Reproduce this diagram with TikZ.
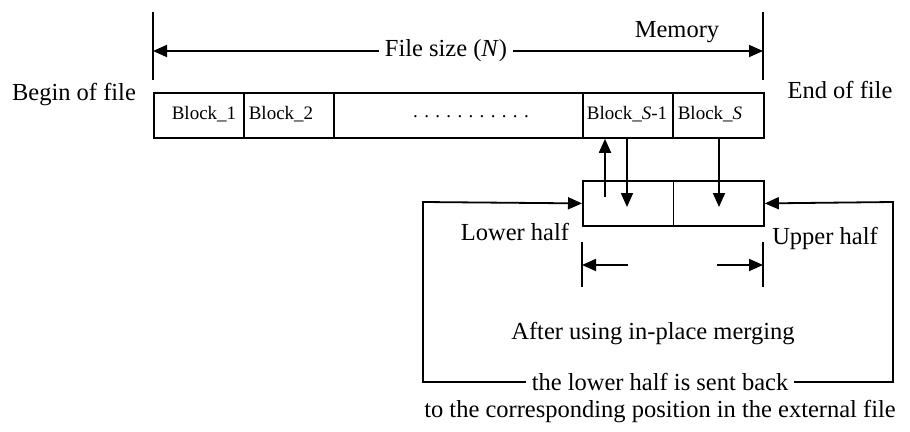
\documentclass[tikz,border=0pt]{standalone}
\usepackage{fontspec}
\setmainfont{Liberation Serif}
\usetikzlibrary{arrows.meta}
\begin{document}
\begin{tikzpicture}[x=1pt,y=1pt,
  line width=1.8pt,
  tri/.style={-{Triangle[length=14pt,width=12pt]}},
  txt/.style={font=\fontsize{24.5}{28}\selectfont, inner sep=1pt},
  gap/.style={inner sep=5pt},
  btxt/.style={font=\fontsize{19}{22}\selectfont, inner sep=0pt},
  blk/.style={draw, minimum height=45pt, inner sep=0pt, anchor=north west},
  half/.style={draw, minimum width=90.5pt, minimum height=45pt, inner sep=0pt, anchor=north west}]
\useasboundingbox (0,0) rectangle (910,-431);
% file blocks
\node[blk, minimum width=90pt] (b1) at (153,-92) {};
\node[blk, minimum width=90pt] (b2) at (243,-92) {};
\node[blk, minimum width=249pt] (bd) at (333,-92) {};
\node[blk, minimum width=90pt] (bs1) at (582,-92) {};
\node[blk, minimum width=91pt] (bs) at (672,-92) {};
\node[btxt] (l1) at (204,-114) {Block\_1};
\node[btxt] (l2) at (281,-114) {Block\_2};
\node[btxt] (l3) at (627,-114) {Block\_\textit{S}-1};
\node[btxt] (l4) at (710,-114) {Block\_\textit{S}};
\node[btxt] (dots) at (471,-117) {. . . . . . . . . . .};
% file size
\coordinate (tl1) at (153,-12); \coordinate (tl2) at (153,-80);
\coordinate (tr1) at (763,-12); \coordinate (tr2) at (763,-80);
\draw (tl1) -- (tl2); \draw (tr1) -- (tr2);
\node[txt, gap] (fs) at (446,-51) {File size (\textit{N})};
\coordinate (al) at (153,-51); \coordinate (ar) at (763,-51);
\draw[tri] (fs.west) -- (al);
\draw[tri] (fs.east) -- (ar);
\node[txt] (mem) at (677,-32) {Memory};
\node[txt] (bof) at (74,-95) {Begin of file};
\node[txt] (eof) at (840,-90) {End of file};
% memory halves
\node[half] (m1) at (582,-180) {};
\node[half] (m2) at (672.5,-180) {};
\coordinate (u0) at (605,-197);
\draw[tri] (u0) -- (u0 |- bs1.south);
\coordinate (d1) at (627,-207);
\draw[tri] (d1 |- bs1.south) -- (d1);
\coordinate (d2) at (719,-207);
\draw[tri] (d2 |- bs.south) -- (d2);
\node[txt] (lh) at (515,-232) {Lower half};
\node[txt] (uh) at (825,-238) {Upper half};
% dimension
\coordinate (k1) at (582,-242); \coordinate (k2) at (582,-287);
\coordinate (k3) at (763,-242); \coordinate (k4) at (763,-287);
\draw (k1) -- (k2); \draw (k3) -- (k4);
\coordinate (e1) at (628,-265); \coordinate (e2) at (582,-265);
\coordinate (e3) at (717,-265); \coordinate (e4) at (763,-265);
\draw[tri] (e1) -- (e2);
\draw[tri] (e3) -- (e4);
% return path
\node[txt] (t1) at (653,-334) {After using in-place merging};
\node[txt, gap] (t2) at (660,-382) {the lower half is sent back};
\node[txt] (t3) at (660,-412) {to the corresponding position in the external file};
\coordinate (c1) at (423,-382); \coordinate (c2) at (423,-202);
\coordinate (c3) at (893,-382); \coordinate (c4) at (893,-202);
\draw[tri] (t2.west) -- (c1) -- (c2) -- (m1.west);
\draw[tri] (t2.east) -- (c3) -- (c4) -- (m2.east);
\end{tikzpicture}
\end{document}
